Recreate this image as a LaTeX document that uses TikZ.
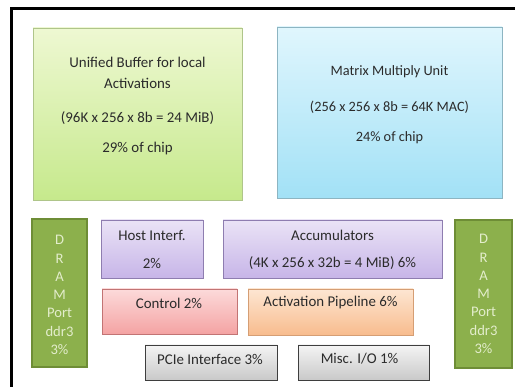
\documentclass[tikz,border=0pt]{standalone}
\usepackage{fontspec}
\setmainfont{Carlito}
\usetikzlibrary{shadows}

\definecolor{txt}{HTML}{2B2B2B}
\definecolor{ubTop}{HTML}{EEF8D2}
\definecolor{ubBot}{HTML}{C6E98C}
\definecolor{ubLine}{HTML}{AFC58A}
\definecolor{mmTop}{HTML}{E0F6FD}
\definecolor{mmBot}{HTML}{A2E1F6}
\definecolor{mmLine}{HTML}{8DB5C2}
\definecolor{drFill}{HTML}{8CB04C}
\definecolor{drLine}{HTML}{6E8D36}
\definecolor{drText}{HTML}{E3EDCC}
\definecolor{lvTop}{HTML}{EAE3F6}
\definecolor{lvBot}{HTML}{C7B5E8}
\definecolor{lvLine}{HTML}{8E7DB0}
\definecolor{rdTop}{HTML}{FCDADA}
\definecolor{rdBot}{HTML}{F4A3A3}
\definecolor{rdLine}{HTML}{C27474}
\definecolor{orTop}{HTML}{FDE6D2}
\definecolor{orBot}{HTML}{F8BC8E}
\definecolor{orLine}{HTML}{D59E74}
\definecolor{gyTop}{HTML}{F4F4F4}
\definecolor{gyBot}{HTML}{C9C9C9}
\definecolor{gyLine}{HTML}{3E3E3E}

\tikzset{
  block/.style={draw, line width=0.8pt, inner sep=0pt, outer sep=0pt,
    anchor=north west, shading=axis, shading angle=0,
    drop shadow={shadow xshift=1.2pt, shadow yshift=-1.2pt, opacity=0.3}},
  caption/.style={font=\fontsize{14.9}{17}\selectfont, text=txt, inner sep=0pt},
  mmcaption/.style={caption, font=\fontsize{14.3}{17}\selectfont},
  dramblock/.style={draw=drLine, fill=drFill, line width=1.3pt, inner sep=0pt,
    outer sep=0pt, anchor=north west,
    drop shadow={shadow xshift=1.2pt, shadow yshift=-1.2pt, opacity=0.3}},
  dramtext/.style={font=\fontsize{14.6}{18.3}\selectfont, text=drText,
    align=center, inner sep=0pt}
}

\begin{document}
\begin{tikzpicture}[x=1pt, y=-1pt]
  \useasboundingbox (0,0) rectangle (515,387);
  \fill[white] (0,0) rectangle (515,387);

  % chip outline (cut at the right and bottom)
  \draw[line width=3pt] (11,390) -- (11,9) -- (518,9);

  % large blocks
  \node[block, draw=ubLine, top color=ubTop, bottom color=ubBot,
        minimum width=209pt, minimum height=172pt] (ub) at (33,28) {};
  \node[block, draw=mmLine, top color=mmTop, bottom color=mmBot,
        minimum width=225pt, minimum height=171pt] (mmu) at (277,27) {};

  \node[caption] (ub1) at (137.5,62) {Unified Buffer for local};
  \node[caption] (ub2) at (137.5,83) {Activations};
  \node[caption] (ub3) at (137.5,118) {(96K x 256 x 8b = 24 MiB)};
  \node[caption] (ub4) at (137.5,149) {29\% of chip};

  \node[mmcaption] (mm1) at (389.5,72) {Matrix Multiply Unit};
  \node[mmcaption] (mm2) at (389.5,107) {(256 x 256 x 8b = 64K MAC)};
  \node[mmcaption] (mm3) at (389.5,138) {24\% of chip};

  % DRAM ports
  \node[dramblock, minimum width=55pt, minimum height=148pt] (dramL) at (32,219) {};
  \node[dramblock, minimum width=57pt, minimum height=148pt] (dramR) at (455,220) {};
  \node[dramtext] (dramLt) at (59.5,295) {D\\R\\A\\M\\Port\\ddr3\\3\%};
  \node[dramtext] (dramRt) at (483.5,294) {D\\R\\A\\M\\Port\\ddr3\\3\%};

  % small blocks
  \node[block, draw=lvLine, top color=lvTop, bottom color=lvBot,
        minimum width=102pt, minimum height=58pt] (host) at (101,220) {};
  \node[block, draw=lvLine, top color=lvTop, bottom color=lvBot,
        minimum width=219pt, minimum height=58pt] (acc) at (223,220) {};
  \node[block, draw=rdLine, top color=rdTop, bottom color=rdBot,
        minimum width=135pt, minimum height=45pt] (ctrl) at (102,289) {};
  \node[block, draw=orLine, top color=orTop, bottom color=orBot,
        minimum width=165pt, minimum height=46pt] (act) at (248,289) {};
  \node[block, draw=gyLine, top color=gyTop, bottom color=gyBot,
        minimum width=132pt, minimum height=35pt] (pcie) at (145,345) {};
  \node[block, draw=gyLine, top color=gyTop, bottom color=gyBot,
        minimum width=131pt, minimum height=35pt] (misc) at (298,345) {};

  \node[caption] (host1) at (152,235) {Host Interf.};
  \node[caption] (host2) at (152,263) {2\%};
  \node[caption] (acc1) at (332.5,235) {Accumulators};
  \node[caption] (acc2) at (332.5,263) {(4K x 256 x 32b = 4 MiB) 6\%};
  \node[caption] (ctrl1) at (169,303) {Control 2\%};
  \node[caption] (act1) at (330.5,303) {Activation Pipeline 6\%};
  \node[caption] (pcie1) at (210,359) {PCIe Interface 3\%};
  \node[caption] (misc1) at (359.5,359) {Misc. I/O 1\%};
\end{tikzpicture}
\end{document}
